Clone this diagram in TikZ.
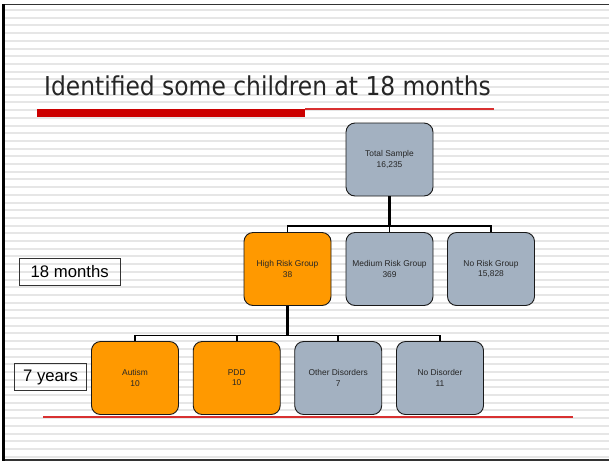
\documentclass[tikz,border=0pt]{standalone}
\usepackage{fontspec}
\setmainfont{Liberation Sans}
\newfontfamily\titlefont{DejaVu Sans Condensed}
\definecolor{boxorange}{HTML}{FF9900}
\definecolor{boxgray}{HTML}{A3B1C1}
\definecolor{barred}{HTML}{CC0000}
\definecolor{thinred}{HTML}{D83030}
\definecolor{stripe}{HTML}{E6E6E6}
\begin{document}
\begin{tikzpicture}[x=1pt,y=-1pt,
  orgbox/.style={draw=black!90, line width=0.9pt, rounded corners=9pt, minimum width=87pt, minimum height=73pt, inner sep=0pt, align=center, font=\fontsize{8.4}{10.2}\selectfont, text=black!85},
  hr/.style={orgbox, fill=boxorange},
  gr/.style={orgbox, fill=boxgray},
  lab/.style={draw=black!80, line width=0.6pt, inner sep=0pt, font=\fontsize{16.7}{18}\selectfont},
  conn/.style={line width=1.6pt, black},
  thick conn/.style={line width=2.6pt, black}]
\useasboundingbox (0,0) rectangle (609,461);
\fill[white] (0,0) rectangle (609,461);
% stripes
\foreach \k in {0,...,58} {
  \fill[stripe] (5,{9+7.7*\k}) rectangle (609,{11+7.7*\k});
}
% frame
\draw[black!80, line width=1.2pt] (609,4.6) -- (3.5,4.6) -- (3.5,460) -- (609,460);
\fill[black] (2,4) rectangle (5,461);
% title
\node[anchor=base west, inner sep=0pt, font=\titlefont\fontsize{26}{30}\selectfont, text=black!85] (title) at (44,95) {Identified some children at 18 months};
\fill[barred] (37,109.3) rectangle (305,117);
\fill[thinred] (305,108.3) rectangle (494,110.3);
% nodes
\node[gr] (total) at (389.5,159.5) {Total Sample\\16,235};
\node[hr] (high) at (287.5,269) {High Risk Group\\38};
\node[gr] (med) at (389.5,269) {Medium Risk Group\\369};
\node[gr] (none) at (491,269) {No Risk Group\\15,828};
\node[hr] (aut) at (135,378) {Autism\\10};
\node[hr] (pdd) at (236.7,378) {PDD\\10};
\node[gr] (oth) at (338.2,378) {Other Disorders\\7};
\node[gr] (nod) at (440,378) {No Disorder\\11};
% connectors
\coordinate (j1) at (389.5,226);
\coordinate (j2) at (287.5,335.5);
\draw[thick conn] (total.south) -- (j1);
\draw[conn] (high.north) |- (j1) -| (none.north);
\draw[conn] (med.north) -- (j1);
\draw[thick conn] (high.south) -- (j2);
\draw[conn] (aut.north) |- (j2) -| (nod.north);
\draw[conn] (pdd.north) -- (pdd.north |- j2);
\draw[conn] (oth.north) -- (oth.north |- j2);
% labels
\node[lab, minimum width=101pt, minimum height=27pt] (m18) at (69.7,271.3) {18 months};
\node[lab, minimum width=72pt, minimum height=27pt] (y7) at (50.5,377) {7 years};
% bottom line
\fill[thinred] (43,416.2) rectangle (573,417.8);
\end{tikzpicture}
\end{document}
